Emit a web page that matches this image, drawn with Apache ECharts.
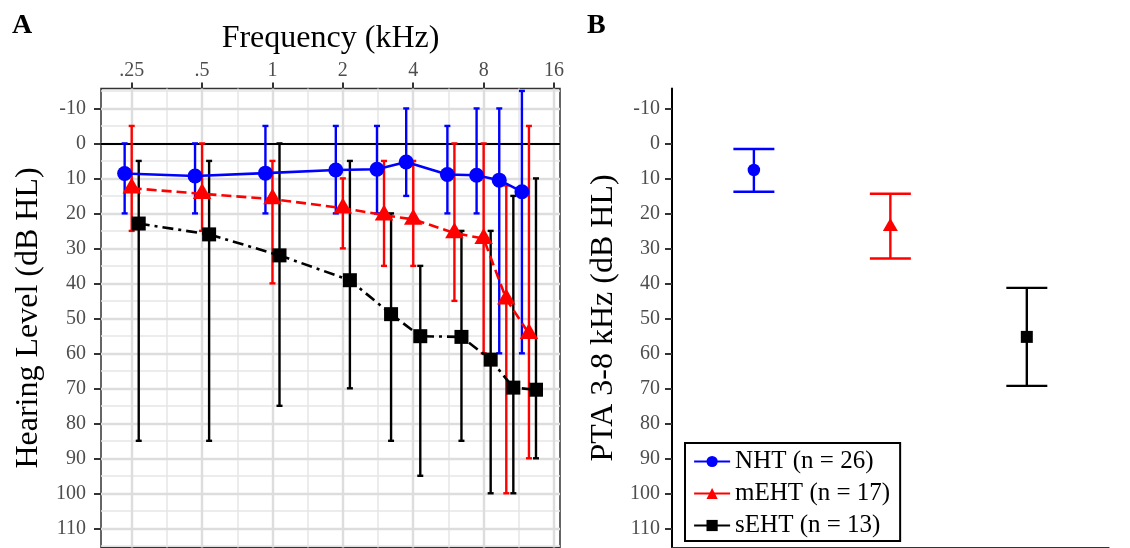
<!DOCTYPE html>
<html>
<head>
<meta charset="utf-8">
<script src="https://cdn.jsdelivr.net/npm/echarts@6/dist/echarts.min.js"></script>
<style>html,body{margin:0;padding:0;background:#fff}#c{width:1130px;height:548px}</style>
</head>
<body>
<div id="c"></div>
<script>
// ---------- data ----------
const freqs = [0.25, 0.5, 1, 2, 3, 4, 6, 8, 10, 12.5];
const groups = ['NHT (n = 26)', 'mEHT (n = 17)', 'sEHT (n = 13)'];
const nhtMean = [8.6, 9.3, 8.5, 7.6, 7.4, 5.3, 8.9, 9.1, 10.5, 13.8];
const nhtLow  = [0, 0, -5, -5, -5, -10, -5, -10, -10, -15];
const nhtHigh = [20, 20, 20, 20, 20, 15, 20, 20, 60, 60];
const mehtMean = [12.8, 14.4, 15.9, 18.5, 20.5, 21.7, 25.6, 27.2, 44.5, 54.4];
const mehtLow  = [-5, 0, 5, 10, 5, 5, 0, 0, 12, -5];
const mehtHigh = [25, 25, 40, 30, 35, 35, 45, 60, 100, 90];
const sehtMean = [22.9, 26.0, 32.0, 39.1, 48.8, 55.1, 55.3, 61.8, 69.8, 70.4];
const sehtLow  = [5, 5, 0, 5, 20, 35, 25, 25, 15, 10];
const sehtHigh = [85, 85, 75, 70, 85, 95, 85, 100, 100, 90];
const ptaMean = [7.6, 23.8, 55.3];
const ptaLow  = [1.6, 14.4, 41.3];
const ptaHigh = [13.8, 32.9, 69.3];
const freqTicks = [0.25, 0.5, 1, 2, 4, 8, 16];
const freqTickLabels = ['.25', '.5', '1', '2', '4', '8', '16'];
const freqMinorTicks = [0.354, 0.707, 1.414, 2.828, 5.657, 11.314];
const hlTicks = [-10, 0, 10, 20, 30, 40, 50, 60, 70, 80, 90, 100, 110];
const hlMinorTicks = [-15, -5, 5, 15, 25, 35, 45, 55, 65, 75, 85, 95, 105, 115];

// ---------- styling ----------
const FONT = '"Liberation Serif", "DejaVu Serif", serif';
const colors = ['#0000ff', '#ff0000', '#000000'];
const dodge = [-0.1, 0, 0.1];          // octave dodge per group
const means = [nhtMean, mehtMean, sehtMean];
const lows = [nhtLow, mehtLow, sehtLow];
const highs = [nhtHigh, mehtHigh, sehtHigh];
const symbols = ['circle', 'triangle', 'rect'];
const symSizeA = [15, [18.5, 16], 14];
const symOffA = [[0, 0], [0, -2.7], [0, 0]];
const symSizeB = [12.5, [15, 13], 12];
const symOffB = [[0, 0], [0, -2.2], [0, 0]];
const lineTypes = ['solid', [10, 5], [11, 5, 3, 5]];

const log2 = Math.log2;
const xMin = -2.436, xMax = 4.085;
const yMin = -15.7, yMax = 115.5;

const majorGrid = { color: '#dddddd', width: 2.4, type: 'solid' };
const minorGrid = { color: '#e6e6e6', width: 1.5, type: 'solid' };

function errorBarRender(color, halfCap, width) {
  return function (params, api) {
    const x = api.value(0), lo = api.value(1), hi = api.value(2);
    const a = api.coord([x, lo]), b = api.coord([x, hi]);
    const st = { stroke: color, lineWidth: width };
    return {
      type: 'group',
      children: [
        { type: 'line', shape: { x1: a[0], y1: a[1], x2: b[0], y2: b[1] }, style: st },
        { type: 'line', shape: { x1: a[0] - halfCap, y1: a[1], x2: a[0] + halfCap, y2: a[1] }, style: st },
        { type: 'line', shape: { x1: b[0] - halfCap, y1: b[1], x2: b[0] + halfCap, y2: b[1] }, style: st }
      ]
    };
  };
}

const series = [];
// line + point series for panel A (first so legend icons come from them)
groups.forEach((g, i) => {
  series.push({
    name: g, type: 'line', xAxisIndex: 0, yAxisIndex: 0, z: 4,
    data: freqs.map((f, k) => [log2(f) + dodge[i], means[i][k]]),
    symbol: symbols[i], symbolSize: symSizeA[i], symbolOffset: symOffA[i], showSymbol: true,
    itemStyle: { color: colors[i] },
    lineStyle: { color: colors[i], width: 2.6, type: lineTypes[i] },
    animation: false, silent: true
  });
});
// panel A grid lines (drawn through the axes' own scales)
series.push({
  name: 'grid', type: 'scatter', xAxisIndex: 0, yAxisIndex: 0, z: 1, data: [],
  silent: true, animation: false,
  markLine: {
    silent: true, symbol: 'none', label: { show: false }, z: 1, animation: false,
    data: []
      .concat(hlMinorTicks.map(v => ({ yAxis: v, lineStyle: minorGrid })))
      .concat(freqMinorTicks.map(f => ({ xAxis: log2(f), lineStyle: minorGrid })))
      .concat(hlTicks.map(v => ({ yAxis: v, lineStyle: majorGrid })))
      .concat(freqTicks.map(f => ({ xAxis: log2(f), lineStyle: majorGrid })))
  }
});
// error bars panel A
groups.forEach((g, i) => {
  series.push({
    name: g, type: 'custom', xAxisIndex: 0, yAxisIndex: 0, z: 3,
    data: freqs.map((f, k) => [log2(f) + dodge[i], lows[i][k], highs[i][k]]),
    encode: { x: 0, y: [1, 2] },
    renderItem: errorBarRender(colors[i], 3, 2.4),
    animation: false, silent: true,
    markLine: i === 0 ? {
      silent: true, symbol: 'none', label: { show: false }, z: 2,
      lineStyle: { color: '#000', width: 2.2, type: 'solid' },
      data: [{ yAxis: 0 }], animation: false
    } : undefined
  });
});
// panel B error bars and points
groups.forEach((g, i) => {
  series.push({
    name: g, type: 'custom', xAxisIndex: 1, yAxisIndex: 1, z: 3,
    data: [[i + 1, ptaLow[i], ptaHigh[i]]],
    encode: { x: 0, y: [1, 2] },
    renderItem: errorBarRender(colors[i], 20.5, 2.4),
    animation: false, silent: true
  });
  series.push({
    name: g, type: 'scatter', xAxisIndex: 1, yAxisIndex: 1, z: 4,
    data: [[i + 1, ptaMean[i]]],
    symbol: symbols[i], symbolSize: symSizeB[i], symbolOffset: symOffB[i],
    itemStyle: { color: colors[i], opacity: 1 },
    animation: false, silent: true
  });
});

const tickLabel = { fontFamily: FONT, fontSize: 20, color: '#4d4d4d' };

const option = {
  animation: false,
  backgroundColor: '#fff',
  textStyle: { fontFamily: FONT },
  graphic: [
    { type: 'text', left: 12, top: 12, style: { text: 'A', font: 'bold 28px ' + FONT, fill: '#000' } },
    { type: 'text', left: 587, top: 12, style: { text: 'B', font: 'bold 28px ' + FONT, fill: '#000' } }
  ],
  legend: {
    left: 685, top: 443, orient: 'vertical',
    data: groups,
    itemWidth: 36, itemHeight: 14, itemGap: 7,
    padding: [6, 10, 3, 8],
    borderColor: '#000', borderWidth: 2, backgroundColor: '#fff',
    lineStyle: { type: 'solid', width: 2.2 },
    textStyle: { fontFamily: FONT, fontSize: 25, color: '#000', lineHeight: 25 },
    selectedMode: false
  },
  grid: [
    { left: 101, top: 88.5, width: 459, height: 459, show: true, borderColor: '#333', borderWidth: 1.5, backgroundColor: 'transparent' },
    { left: 672, top: 88.5, width: 436.7, height: 459, show: false }
  ],
  xAxis: [
    {
      gridIndex: 0, type: 'value', position: 'top', min: xMin, max: xMax,
      name: 'Frequency (kHz)', nameLocation: 'middle', nameGap: 34,
      nameTextStyle: { fontFamily: FONT, fontSize: 32, color: '#000' },
      axisLine: { show: false, onZero: false },
      axisTick: { show: true, length: 6, customValues: freqTicks.map(log2), lineStyle: { color: '#333', width: 2 } },
      axisLabel: {
        ...tickLabel, margin: 8, customValues: freqTicks.map(log2),
        formatter: v => { const k = freqTicks.findIndex(t => Math.abs(log2(t) - v) < 1e-6); return k >= 0 ? freqTickLabels[k] : ''; }
      },
      splitLine: { show: false }
    },
    {
      gridIndex: 1, type: 'value', position: 'bottom', min: 0.4, max: 3.6,
      axisLine: { show: true, onZero: false, lineStyle: { color: '#333', width: 2 } },
      axisTick: { show: false }, axisLabel: { show: false }, splitLine: { show: false }
    }
  ],
  yAxis: [
    {
      gridIndex: 0, type: 'value', position: 'left', inverse: true, min: yMin, max: yMax,
      name: 'Hearing Level (dB HL)', nameLocation: 'middle', nameGap: 56,
      nameTextStyle: { fontFamily: FONT, fontSize: 32, color: '#000' },
      axisLine: { show: false, onZero: false },
      axisTick: { show: true, length: 7, customValues: hlTicks, lineStyle: { color: '#333', width: 2 } },
      axisLabel: { ...tickLabel, margin: 15, customValues: hlTicks },
      splitLine: { show: false }
    },
    {
      gridIndex: 1, type: 'value', position: 'left', inverse: true, min: yMin, max: yMax,
      name: 'PTA 3-8 kHz (dB HL)', nameLocation: 'middle', nameGap: 52,
      nameTextStyle: { fontFamily: FONT, fontSize: 32, color: '#000' },
      axisLine: { show: true, onZero: false, lineStyle: { color: '#000', width: 2 } },
      axisTick: { show: true, length: 7, customValues: hlTicks, lineStyle: { color: '#333', width: 2 } },
      axisLabel: { ...tickLabel, margin: 12, customValues: hlTicks },
      splitLine: { show: false }
    }
  ],
  series: series
};

const chart = echarts.init(document.getElementById('c'), null, { renderer: 'canvas' });
chart.setOption(option);
</script>
</body>
</html>
